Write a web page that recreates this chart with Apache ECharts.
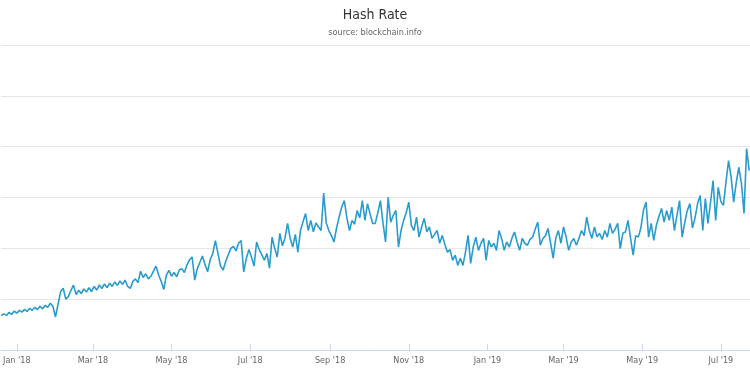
<!DOCTYPE html>
<html>
<head>
<meta charset="utf-8">
<script src="https://cdn.jsdelivr.net/npm/echarts@6/dist/echarts.min.js"></script>
<style>
html,body{margin:0;padding:0;background:#fff;}
#chart{width:750px;height:375px;}
</style>
</head>
<body>
<div id="chart"></div>
<script>
// Hash rate (EH/s), one reading every 2 days starting 2017-12-20
const startDate = [2017, 11, 20];
const stepDays = 2;
const hashRate = [
13.5,14.2,13.6,14.8,14.0,15.3,14.5,15.6,14.9,16.0,
15.2,16.4,15.6,16.8,15.9,17.2,16.2,17.6,16.8,18.4,
17.2,13.0,18.0,23.0,24.3,20.0,21.0,23.5,25.5,21.8,
23.5,22.2,24.0,22.8,24.5,23.0,25.0,23.6,25.6,24.2,
26.0,24.5,26.3,25.0,26.8,25.4,27.2,25.8,27.5,25.0,
24.2,27.0,28.0,26.5,31.0,28.5,30.0,28.0,29.0,31.0,
33.0,29.5,27.0,23.8,29.5,31.3,29.0,30.5,28.8,31.5,
32.0,30.5,33.5,35.5,36.6,27.5,32.0,34.5,37.0,33.5,
30.8,35.5,38.0,43.0,38.0,33.0,31.4,34.8,37.5,40.0,
40.8,39.0,42.0,43.1,30.7,36.0,39.5,36.6,33.0,42.5,
39.5,37.5,35.3,38.0,32.2,44.4,40.0,36.6,45.9,41.0,
44.0,49.8,44.0,40.5,45.5,38.5,47.0,50.5,53.7,47.0,
51.0,46.5,50.0,48.4,47.0,61.7,50.0,47.0,45.0,42.5,
48.0,52.3,56.2,58.8,52.0,47.0,51.0,49.5,54.9,52.0,
58.8,51.0,57.6,53.5,49.8,49.8,54.0,58.8,50.0,42.5,
60.1,50.3,53.0,54.9,40.5,47.0,51.0,54.0,58.2,49.0,
47.0,52.3,44.4,48.5,51.8,46.5,48.4,43.9,45.5,47.0,
42.0,45.1,41.5,38.5,39.5,35.3,37.3,33.3,36.1,33.3,
38.5,45.1,34.1,40.5,44.4,39.2,42.0,43.9,35.3,43.1,
40.5,42.0,39.2,47.0,43.9,39.2,42.5,40.5,44.0,46.4,
42.5,39.2,43.9,42.0,41.2,43.5,44.4,47.5,50.3,41.2,
43.9,45.0,47.8,42.0,36.1,44.0,47.0,42.0,48.4,44.5,
39.2,42.5,43.9,41.2,44.0,47.0,45.0,52.3,47.0,43.9,
48.4,44.5,45.9,43.5,47.0,44.4,49.8,45.9,47.5,49.8,
39.9,45.9,46.4,51.0,44.0,37.3,45.0,44.4,48.0,55.0,
58.2,44.4,49.8,43.1,49.0,52.5,55.7,50.3,54.9,51.0,
56.2,47.0,53.0,58.8,44.4,50.0,54.9,57.6,48.0,52.0,
57.6,60.8,47.0,59.6,49.8,58.0,66.7,51.0,64.0,58.5,
56.9,66.0,74.5,68.0,58.2,66.0,71.9,65.5,53.7,79.2,
70.6
];
const tickLabels = ["Jan '18","Mar '18","May '18","Jul '18","Sep '18","Nov '18","Jan '19","Mar '19","May '19","Jul '19"];
const tickMonths = [[2018,0],[2018,2],[2018,4],[2018,6],[2018,8],[2018,10],[2019,0],[2019,2],[2019,4],[2019,6]];

const DAY = 86400000;
const t0 = Date.UTC(startDate[0], startDate[1], startDate[2]);
const seriesData = hashRate.map((v, i) => [t0 + i * stepDays * DAY, v]);
const tickValues = tickMonths.map(m => Date.UTC(m[0], m[1], 1));
const axisMin = Date.UTC(2017, 11, 19, 20);
const axisMax = axisMin + 580.8 * DAY;

const chart = echarts.init(document.getElementById('chart'));
chart.setOption({
  animation: false,
  backgroundColor: '#ffffff',
  title: {
    left: 'center',
    top: 3,
    text: 'Hash Rate',
    subtext: 'source: blockchain.info',
    itemGap: 6,
    textStyle: { fontFamily: '"Liberation Sans Narrow", "DejaVu Sans Condensed", sans-serif', fontSize: 14, fontWeight: 'normal', color: '#333333' },
    subtextStyle: { fontFamily: '"Liberation Sans Narrow", "DejaVu Sans Condensed", sans-serif', fontSize: 9, color: '#666666' }
  },
  grid: { left: 0, right: 0, top: 45, bottom: 25, containLabel: false },
  xAxis: {
    type: 'value',
    min: axisMin,
    max: axisMax,
    axisLine: { show: true, lineStyle: { color: '#ccd6eb', width: 1 } },
    axisTick: { show: true, inside: true, length: 6, customValues: tickValues, lineStyle: { color: '#ccd6eb' } },
    axisLabel: {
      customValues: tickValues,
      formatter: function (v) {
        const idx = tickValues.indexOf(v);
        return idx >= 0 ? tickLabels[idx] : '';
      },
      fontFamily: '"Liberation Sans Narrow", "DejaVu Sans Condensed", sans-serif',
      fontSize: 9,
      color: '#666666',
      margin: 6
    },
    splitLine: { show: false }
  },
  yAxis: {
    type: 'value',
    min: 0,
    max: 120,
    interval: 20,
    axisLabel: { show: false },
    axisLine: { show: false },
    axisTick: { show: false },
    splitLine: { show: true, lineStyle: { color: '#e6e6e6', width: 1 } }
  },
  series: [{
    type: 'line',
    data: seriesData,
    showSymbol: false,
    symbol: 'none',
    lineStyle: { color: '#2a9ccc', width: 1.6 },
    itemStyle: { color: '#2a9ccc' }
  }]
});
</script>
</body>
</html>
